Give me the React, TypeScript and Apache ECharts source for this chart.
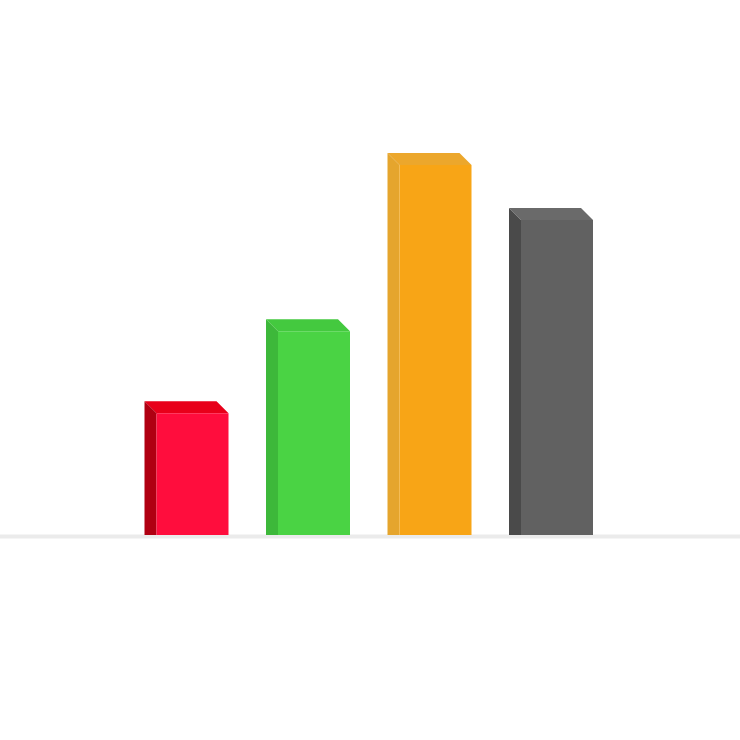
import React, { useEffect, useRef } from "react";
import * as echarts from "echarts";

const categories = ["A", "B", "C", "D"];
const values = [35, 56.5, 100, 85.6];
const frontColors = ["#ff0d3d", "#4ad344", "#f8a516", "#616161"];
const sideColors = ["#b00012", "#3db83a", "#e5a52d", "#4a4a4a"];
const topColors = ["#e8001a", "#44c93f", "#eca72c", "#6a6a6a"];

const DEPTH = 12;
const HALF = 42;

export default function App() {
  const ref = useRef<HTMLDivElement>(null);
  useEffect(() => {
    document.body.style.margin = "0";
    const chart = echarts.init(ref.current!, null, { renderer: "svg" });
    chart.setOption({
      animation: false,
      backgroundColor: "#ffffff",
      grid: { left: 125.75, right: 740 - 125.75 - 486, top: 153, bottom: 205, containLabel: false },
      xAxis: {
        type: "category",
        data: categories,
        axisLine: { show: false },
        axisTick: { show: false },
        axisLabel: { show: false },
        splitLine: { show: false },
      },
      yAxis: {
        type: "value",
        min: 0,
        max: 100,
        show: false,
        splitLine: { show: false },
      },
      graphic: [
        {
          type: "rect",
          shape: { x: 0, y: 534.5, width: 740, height: 4 },
          style: { fill: "#ebebeb" },
          z: 0,
        },
      ],
      series: [
        {
          type: "custom",
          z: 10,
          data: values.map((v, i) => [i, v]),
          renderItem: (params: any, api: any) => {
            const i = api.value(0);
            const v = api.value(1);
            const top = api.coord([i, v]);
            const base = api.coord([i, 0]);
            const cx = top[0];
            const ty = top[1];
            const by = base[1];
            const outerL = cx - HALF;
            const frontL = cx - HALF + DEPTH;
            const frontR = cx + HALF;
            const fty = ty + DEPTH;
            return {
              type: "group",
              children: [
                {
                  type: "polygon",
                  shape: {
                    points: [
                      [outerL, ty],
                      [frontR - DEPTH, ty],
                      [frontR, fty],
                      [frontL, fty],
                    ],
                  },
                  style: { fill: topColors[i] },
                },
                {
                  type: "polygon",
                  shape: {
                    points: [
                      [outerL, ty],
                      [frontL, fty],
                      [frontL, by],
                      [outerL, by],
                    ],
                  },
                  style: { fill: sideColors[i] },
                },
                {
                  type: "rect",
                  shape: { x: frontL, y: fty, width: frontR - frontL, height: by - fty },
                  style: { fill: frontColors[i] },
                },
              ],
            };
          },
        },
      ],
    });
    return () => chart.dispose();
  }, []);
  return (
    <div
      ref={ref}
      style={{ position: "fixed", left: 0, top: 0, width: 740, height: 740 }}
    />
  );
}
